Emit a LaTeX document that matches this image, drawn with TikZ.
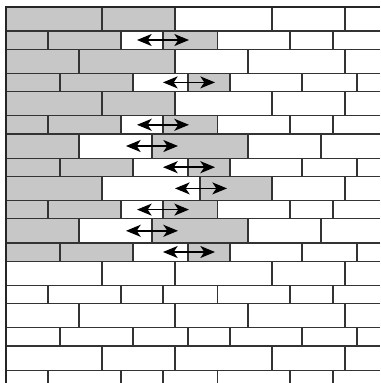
\documentclass[tikz,border=0pt]{standalone}
\usetikzlibrary{arrows.meta}
\begin{document}
\begin{tikzpicture}[x=0.75pt,y=-0.75pt,
  joint/.style={line width=0.9pt,draw=black!80},
  moved/.style={fill=black!22},
  slide/.style={{Stealth[length=11pt,width=9pt,inset=3pt]}-{Stealth[length=11pt,width=9pt,inset=3pt]},line width=1.1pt}]
\useasboundingbox (0,0) rectangle (380,383);
\begin{scope}
\clip (0,0) rectangle (380,383);
% displaced bricks (grey)
\fill[moved] (7,6.7) rectangle (175,30.9);
\fill[moved] (7,30.9) rectangle (121,49.1);   \fill[moved] (163,30.9) rectangle (217.5,49.1);
\fill[moved] (7,49.1) rectangle (175,73.3);
\fill[moved] (7,73.3) rectangle (133,91.5);   \fill[moved] (188,73.3) rectangle (230,91.5);
\fill[moved] (7,91.5) rectangle (175,115.7);
\fill[moved] (7,115.7) rectangle (121,133.9); \fill[moved] (163,115.7) rectangle (217.5,133.9);
\fill[moved] (7,133.9) rectangle (79,158.1);  \fill[moved] (152,133.9) rectangle (248,158.1);
\fill[moved] (7,158.1) rectangle (133,176.3); \fill[moved] (188,158.1) rectangle (230,176.3);
\fill[moved] (7,176.3) rectangle (102,200.5); \fill[moved] (200,176.3) rectangle (272,200.5);
\fill[moved] (7,200.5) rectangle (121,218.7); \fill[moved] (163,200.5) rectangle (217.5,218.7);
\fill[moved] (7,218.7) rectangle (79,242.9);  \fill[moved] (152,218.7) rectangle (248,242.9);
\fill[moved] (7,242.9) rectangle (133,261.1); \fill[moved] (188,242.9) rectangle (230,261.1);
% bed joints
\foreach \y in {30.9,49.1,73.3,91.5,115.7,133.9,158.1,176.3,200.5,218.7,242.9,261.1,285.3,303.5,327.7,345.9,370.1}
  \draw[joint] (7,\y) -- (380,\y);
% head joints, course by course
\foreach \t/\b/\js in {
    6.7/30.9/{102,175,272,345},
    30.9/49.1/{48,121,163,217.5,290,333},
    49.1/73.3/{79,175,248,345},
    73.3/91.5/{60,133,188,230,302,357},
    91.5/115.7/{102,175,272,345},
    115.7/133.9/{48,121,163,217.5,290,333},
    133.9/158.1/{79,152,248,321},
    158.1/176.3/{60,133,188,230,302,357},
    176.3/200.5/{102,200,272,345},
    200.5/218.7/{48,121,163,217.5,290,333},
    218.7/242.9/{79,152,248,321},
    242.9/261.1/{60,133,188,230,302,357},
    261.1/285.3/{102,175,272,345},
    285.3/303.5/{48,121,163,217.5,290,333},
    303.5/327.7/{79,175,248,345},
    327.7/345.9/{60,133,188,230,302,357},
    345.9/370.1/{102,175,272,345},
    370.1/390/{48,121,163,217.5,290,333}}
  {\foreach \x in \js \draw[joint] (\x,\t) -- (\x,\b);}
\end{scope}
% frame
\draw[line width=1.6pt,black!85] (6.2,383) -- (6.2,6.2);
\draw[line width=1.2pt,black!85] (5.4,6.7) -- (380,6.7);
% slip arrows
\draw[slide] (137,40.0) -- (189,40.0);
\draw[slide] (163,82.4) -- (215,82.4);
\draw[slide] (137,124.8) -- (189,124.8);
\draw[slide] (126,146.0) -- (178,146.0);
\draw[slide] (163,167.2) -- (215,167.2);
\draw[slide] (175,188.4) -- (227,188.4);
\draw[slide] (137,209.6) -- (189,209.6);
\draw[slide] (126,230.8) -- (178,230.8);
\draw[slide] (163,252.0) -- (215,252.0);
\end{tikzpicture}
\end{document}
